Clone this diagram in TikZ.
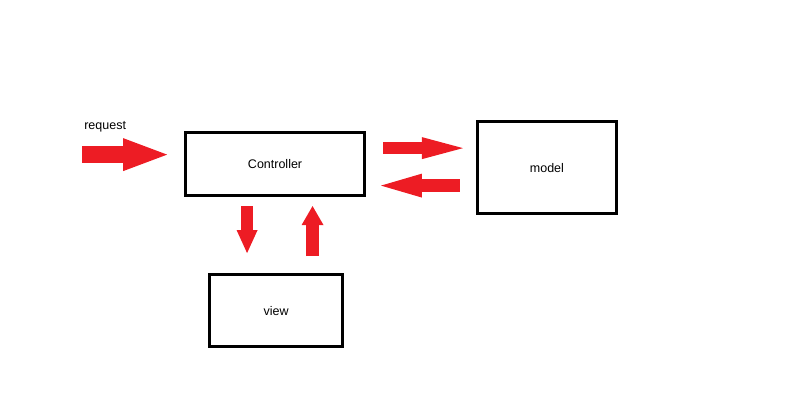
\documentclass[tikz,border=0pt]{standalone}
\usepackage{fontspec}
\setmainfont{Liberation Sans}
\usetikzlibrary{arrows.meta}
\definecolor{paintred}{RGB}{237,28,36}
\begin{document}
\begin{tikzpicture}[x=1pt,y=-1pt,font=\fontsize{12.5}{14}\selectfont,
    box/.style={draw,line width=3pt,minimum width=#1,anchor=center,inner sep=0pt},
    redarrow/.style={paintred,line width=#1}]
        \draw[white] (0,0) rectangle (800,407);
        \node[box=179pt,minimum height=63pt] (ctrl) at (275,164) {Controller};
        \node[box=139pt,minimum height=92pt,text depth=0pt] (model) at (547,167.5) {model};
        \node[box=133pt,minimum height=72pt,text depth=0pt] (view) at (276,310.5) {view};
        \node[anchor=center] (req) at (105,126.5) {request};
        \coordinate (reqin) at (82,154.5);
        \coordinate (reqtip) at (167,154.5);
        \draw[redarrow=17pt,-{Triangle[length=44pt,width=33pt,line width=0pt]}] (reqin) -- (reqtip);
        \draw[redarrow=12pt,-{Triangle[length=41pt,width=22pt,line width=0pt]}] (ctrl.east |- 0,148) ++(17,0) -- ([xshift=-13pt]model.west |- 0,148);
        \draw[redarrow=13pt,-{Triangle[length=41pt,width=24pt,line width=0pt]}] ([xshift=-16pt]model.west |- 0,185.5) -- ([xshift=15pt]ctrl.east |- 0,185.5);
        \draw[redarrow=12pt,-{Triangle[length=23pt,width=21pt,line width=0pt]}] ([yshift=-9pt]ctrl.south -| 247,0) -- ([yshift=20pt]view.north -| 247,0);
        \draw[redarrow=13pt,-{Triangle[length=19pt,width=22pt,line width=0pt]}] ([yshift=17pt]view.north -| 312.5,0) -- ([yshift=-9pt]ctrl.south -| 312.5,0);
    \end{tikzpicture}
\end{document}
